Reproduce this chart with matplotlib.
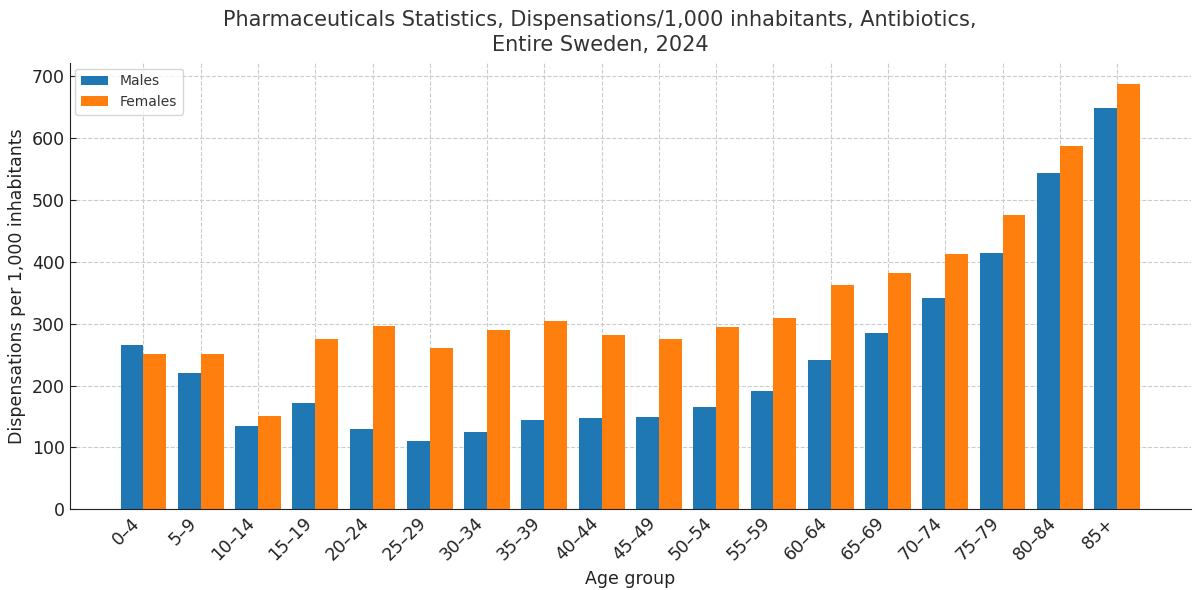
# antibiotics dispensations per 1,000 inhabitants by age group and sex, Sweden 2024
import numpy as np
import matplotlib
matplotlib.use('Agg')
import matplotlib.pyplot as plt

age_groups = ["0–4", "5–9", "10–14", "15–19", "20–24", "25–29", "30–34", "35–39",
              "40–44", "45–49", "50–54", "55–59", "60–64", "65–69", "70–74", "75–79",
              "80–84", "85+"]
males = [266, 220, 134, 172, 130, 111, 124, 145, 147, 149, 166, 191, 241, 285, 342, 415, 543, 648]
females = [251, 251, 150, 275, 296, 261, 290, 305, 282, 275, 294, 309, 362, 382, 413, 475, 587, 687]

x = np.arange(len(age_groups))
width = 0.4

fig, ax = plt.subplots(figsize=(12, 5.9), dpi=100)
fig.subplots_adjust(left=0.058, right=0.9925, bottom=0.137, top=0.893)

ax.bar(x - width / 2, males, width, label="Males", color="#1f77b4", zorder=2)
ax.bar(x + width / 2, females, width, label="Females", color="#ff7f0e", zorder=2)

ax.set_xticks(x)
ax.set_xticklabels(age_groups, rotation=45, ha="right")
ax.tick_params(axis="both", direction="in", labelsize=12.5, colors="#222222", length=4)
ax.set_yticks(range(0, 701, 100))

ax.set_xlabel("Age group", fontsize=12.5, color="#222222")
ax.set_ylabel("Dispensations per 1,000 inhabitants", fontsize=12.5, color="#222222")
# title is centred on the figure, not on the axes
fig.suptitle("Pharmaceuticals Statistics, Dispensations/1,000 inhabitants, Antibiotics,\nEntire Sweden, 2024",
             x=0.5, y=1 - 10 / 590, va="top", fontsize=15, color="#333333", linespacing=1.3)

ax.grid(True, linestyle="--", color="#cccccc", linewidth=0.8, zorder=0)
ax.set_axisbelow(True)
ax.spines["top"].set_visible(False)
ax.spines["right"].set_visible(False)
ax.spines["left"].set_color("#222222")
ax.spines["bottom"].set_color("#222222")

leg = ax.legend(loc="upper left", fontsize=10, frameon=True, edgecolor="#cccccc",
                borderaxespad=0.4)
for t in leg.get_texts():
    t.set_color("#333333")

plt.savefig("out.png")
